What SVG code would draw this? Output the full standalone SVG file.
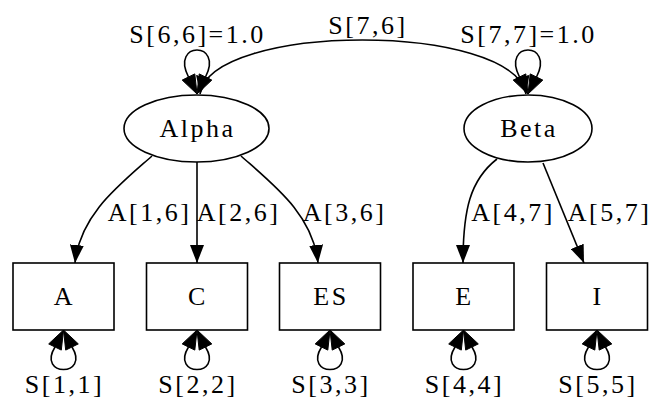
<svg xmlns="http://www.w3.org/2000/svg" xmlns:xlink="http://www.w3.org/1999/xlink" width="657" height="401" viewBox="0 0 657 401">
<style>
  .n { fill: #ffffff; stroke: #000000; stroke-width: 1.6; }
  .e { fill: none; stroke: #000000; stroke-width: 1.6; }
  .h { fill: #000000; stroke: #000000; stroke-width: 1; }
  text { font-family: "Liberation Serif", "Times New Roman", serif; font-size: 26px; letter-spacing: 2.5px; fill: #000000; text-anchor: middle; }
</style>
<defs>
  <marker id="ah" viewBox="0 0 18 14" markerWidth="18" markerHeight="14" refX="18" refY="7" orient="auto-start-reverse" markerUnits="userSpaceOnUse">
    <path d="M0,0 L18,7 L0,14 z" fill="#000000"/>
  </marker>
  <g id="loopB">
    <path class="e" d="M-8.5,17 C-27,47 27,47 8.5,17"/>
    <polygon class="h" points="0,0 -14.8,13.9 -2.2,20.1"/>
    <polygon class="h" points="0,0 14.8,13.9 2.2,20.1"/>
  </g>
  <g id="loopT">
    <path class="e" d="M-8.5,-17 C-27,-53 27,-53 8.5,-17"/>
    <polygon class="h" points="0,0 -14.8,-13.9 -2.2,-20.1"/>
    <polygon class="h" points="0,0 14.8,-13.9 2.2,-20.1"/>
  </g>
</defs>
<rect width="657" height="401" fill="#ffffff"/>
<g id="connectors">
  <g id="e-S76">
    <path class="e" d="M200,94 C212,22 512,22 526,94" marker-start="url(#ah)" marker-end="url(#ah)"/>
    <text x="368" y="34">S[7,6]</text>
  </g>
  <g id="e-A16">
    <path class="e" d="M152,156 C118,186 80,215 75,263" marker-end="url(#ah)"/>
    <text x="149.5" y="220.5">A[1,6]</text>
  </g>
  <g id="e-A26">
    <path class="e" d="M197,162 L197,263" marker-end="url(#ah)"/>
    <text x="238.5" y="220.5">A[2,6]</text>
  </g>
  <g id="e-A36">
    <path class="e" d="M241,156 C275,186 313,215 318,263" marker-end="url(#ah)"/>
    <text x="344.5" y="220.5">A[3,6]</text>
  </g>
  <g id="e-A47">
    <path class="e" d="M497,159 C470,180 463,210 463,263" marker-end="url(#ah)"/>
    <text x="513" y="220.5">A[4,7]</text>
  </g>
  <g id="e-A57">
    <path class="e" d="M543,163 L584,263" marker-end="url(#ah)"/>
    <text x="609.5" y="220.5">A[5,7]</text>
  </g>
  <g id="e-S66">
    <use xlink:href="#loopT" href="#loopT" transform="translate(197,94)"/>
    <text x="197.5" y="43">S[6,6]=1.0</text>
  </g>
  <g id="e-S77">
    <use xlink:href="#loopT" href="#loopT" transform="translate(528,94)"/>
    <text x="528.5" y="43">S[7,7]=1.0</text>
  </g>
  <g id="e-S11">
    <use xlink:href="#loopB" href="#loopB" transform="translate(63.5,330)"/>
    <text x="64.5" y="393">S[1,1]</text>
  </g>
  <g id="e-S22">
    <use xlink:href="#loopB" href="#loopB" transform="translate(197,330)"/>
    <text x="198" y="393">S[2,2]</text>
  </g>
  <g id="e-S33">
    <use xlink:href="#loopB" href="#loopB" transform="translate(330,330)"/>
    <text x="331" y="393">S[3,3]</text>
  </g>
  <g id="e-S44">
    <use xlink:href="#loopB" href="#loopB" transform="translate(463.5,330)"/>
    <text x="464.5" y="393">S[4,4]</text>
  </g>
  <g id="e-S55">
    <use xlink:href="#loopB" href="#loopB" transform="translate(597,330)"/>
    <text x="598" y="393">S[5,5]</text>
  </g>
</g>
<g id="node-Alpha">
  <ellipse class="n" cx="196.5" cy="128.5" rx="72.5" ry="33.5"/>
  <text x="197.5" y="137">Alpha</text>
</g>
<g id="node-Beta">
  <ellipse class="n" cx="528" cy="128.5" rx="64" ry="33.5"/>
  <text x="529" y="137">Beta</text>
</g>
<g id="node-A">
  <rect class="n" x="13" y="263" width="101" height="67"/>
  <text x="64.5" y="305">A</text>
</g>
<g id="node-C">
  <rect class="n" x="146.5" y="263" width="101" height="67"/>
  <text x="198" y="305">C</text>
</g>
<g id="node-ES">
  <rect class="n" x="279.5" y="263" width="101" height="67"/>
  <text x="331" y="305">ES</text>
</g>
<g id="node-E">
  <rect class="n" x="413" y="263" width="101" height="67"/>
  <text x="464.5" y="305">E</text>
</g>
<g id="node-I">
  <rect class="n" x="546.5" y="263" width="101" height="67"/>
  <text x="598" y="305">I</text>
</g>
</svg>
